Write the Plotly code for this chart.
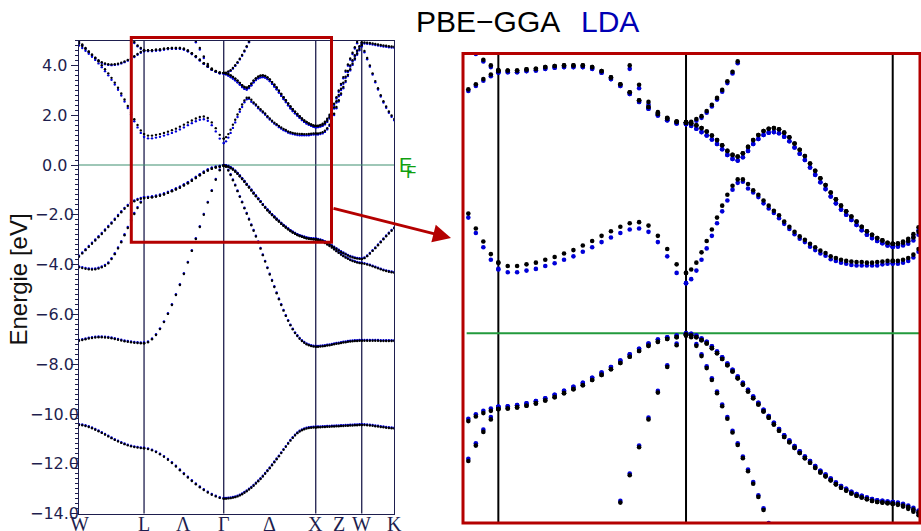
import numpy as np
import plotly.graph_objects as go

# ---------------------------------------------------------------------------
# k-path W - L - Γ - X - W - K (fcc), segment lengths in units of 2π/a
# ---------------------------------------------------------------------------
path_labels = ["W", "L", "Λ", "Γ", "Δ", "X", "Z", "W", "K"]
segment_lengths = [0.707, 0.866, 1.0, 0.5, 0.354]
zoom_segment_lengths = [0.726, 0.908, 1.0, 0.5, 0.354]
segment_points = [21, 21, 41, 21, 13]
energy_ticks = [-14, -12, -10, -8, -6, -4, -2, 0, 2, 4]

# ---------------------------------------------------------------------------
# Band energies in eV; each list runs W-L (21) | L-Γ (21) | Γ-X (41) | X-W (21) | W-K (13)
# None = band outside the plotted window
# ---------------------------------------------------------------------------
pbe_b1 = [
    -10.44, -10.45, -10.48, -10.52, -10.57, -10.63, -10.69, -10.76, -10.83, -10.90, -10.97,
    -11.04, -11.10, -11.16, -11.21, -11.26, -11.30, -11.33, -11.35, -11.37, -11.38,
    -11.38, -11.41, -11.46, -11.53, -11.62, -11.72, -11.84, -11.97, -12.11, -12.26, -12.41,
    -12.55, -12.69, -12.82, -12.94, -13.05, -13.15, -13.24, -13.31, -13.37, -13.40,
    -13.40, -13.40, -13.39, -13.38, -13.36, -13.34, -13.31, -13.27, -13.22, -13.16,
    -13.10, -13.03, -12.96, -12.88, -12.79, -12.70, -12.61, -12.51, -12.40, -12.29,
    -12.18, -12.06, -11.94, -11.82, -11.70, -11.57, -11.44, -11.32, -11.19, -11.07,
    -10.96, -10.86, -10.77, -10.70, -10.65, -10.61, -10.58, -10.56, -10.55, -10.54, -10.54,
    -10.54, -10.53, -10.53, -10.52, -10.52, -10.51, -10.51, -10.50, -10.50, -10.49, -10.49,
    -10.48, -10.48, -10.47, -10.47, -10.46, -10.46, -10.45, -10.45, -10.44, -10.44,
    -10.44, -10.44, -10.45, -10.46, -10.47, -10.49, -10.50, -10.52, -10.53, -10.55, -10.56,
    -10.57, -10.58,
]
pbe_b2 = [
    -7.06, -7.03, -7.00, -6.97, -6.95, -6.93, -6.92, -6.92, -6.93, -6.94, -6.96,
    -6.99, -7.02, -7.05, -7.08, -7.10, -7.12, -7.14, -7.15, -7.16, -7.16,
    -7.16, -7.12, -7.00, -6.83, -6.59, -6.31, -5.98, -5.62, -5.22, -4.82, -4.38,
    -3.92, -3.45, -2.97, -2.49, -2.00, -1.51, -1.04, -0.59, -0.21, -0.02,
    -0.02, -0.07, -0.22, -0.40, -0.61, -0.82, -1.05, -1.28, -1.50, -1.74,
    -1.96, -2.19, -2.42, -2.64, -2.87, -3.10, -3.36, -3.62, -3.88, -4.14,
    -4.40, -4.65, -4.90, -5.15, -5.39, -5.62, -5.85, -6.06, -6.26, -6.44,
    -6.60, -6.75, -6.87, -6.98, -7.07, -7.14, -7.20, -7.24, -7.27, -7.29, -7.30,
    -7.30, -7.30, -7.29, -7.28, -7.27, -7.25, -7.24, -7.22, -7.20, -7.18, -7.17,
    -7.15, -7.13, -7.12, -7.10, -7.09, -7.08, -7.07, -7.07, -7.06, -7.06,
    -7.06, -7.06, -7.06, -7.06, -7.06, -7.06, -7.06, -7.07, -7.07, -7.07, -7.07,
    -7.07, -7.07,
]
pbe_b3 = [
    -3.68, -3.55, -3.42, -3.29, -3.16, -3.03, -2.90, -2.77, -2.63, -2.49, -2.35,
    -2.20, -2.05, -1.90, -1.76, -1.64, -1.54, -1.46, -1.40, -1.36, -1.33,
    -1.33, -1.32, -1.30, -1.27, -1.23, -1.18, -1.12, -1.05, -0.98, -0.91, -0.82,
    -0.73, -0.63, -0.52, -0.41, -0.31, -0.22, -0.15, -0.10, -0.07, -0.04,
    -0.03, -0.04, -0.07, -0.12, -0.18, -0.26, -0.35, -0.45, -0.56, -0.67,
    -0.79, -0.90, -1.02, -1.14, -1.25, -1.37, -1.48, -1.60, -1.71, -1.82,
    -1.91, -2.01, -2.10, -2.19, -2.27, -2.36, -2.44, -2.51, -2.58, -2.65,
    -2.71, -2.76, -2.81, -2.85, -2.88, -2.91, -2.94, -2.96, -2.97, -2.98, -2.99,
    -2.99, -3.00, -3.02, -3.05, -3.09, -3.14, -3.19, -3.25, -3.31, -3.37, -3.43,
    -3.49, -3.54, -3.59, -3.64, -3.68, -3.71, -3.74, -3.76, -3.77, -3.78,
    -3.78, -3.74, -3.66, -3.56, -3.45, -3.34, -3.22, -3.10, -2.98, -2.86, -2.75,
    -2.64, -2.54,
]
pbe_b4 = [
    -4.11, -4.14, -4.17, -4.19, -4.20, -4.19, -4.16, -4.11, -4.05, -3.95, -3.78,
    -3.58, -3.35, -3.10, -2.82, -2.53, -2.24, -1.97, -1.73, -1.51, -1.33,
    -1.33, -1.32, -1.30, -1.27, -1.23, -1.18, -1.12, -1.05, -0.98, -0.91, -0.82,
    -0.73, -0.63, -0.52, -0.41, -0.31, -0.22, -0.15, -0.10, -0.07, -0.04,
    -0.03, -0.04, -0.07, -0.12, -0.18, -0.26, -0.35, -0.45, -0.56, -0.67,
    -0.79, -0.90, -1.02, -1.14, -1.25, -1.37, -1.48, -1.60, -1.71, -1.82,
    -1.91, -2.01, -2.10, -2.19, -2.27, -2.36, -2.44, -2.51, -2.58, -2.65,
    -2.71, -2.76, -2.81, -2.85, -2.88, -2.91, -2.94, -2.96, -2.97, -2.98, -2.99,
    -2.99, -3.01, -3.04, -3.08, -3.13, -3.19, -3.25, -3.32, -3.39, -3.46, -3.53,
    -3.60, -3.66, -3.72, -3.77, -3.82, -3.86, -3.89, -3.92, -3.94, -3.95,
    -3.95, -3.97, -4.00, -4.03, -4.07, -4.11, -4.15, -4.19, -4.23, -4.26, -4.29,
    -4.31, -4.33,
]
pbe_b5 = [
    4.88, 4.78, 4.67, 4.55, 4.43, 4.30, 4.16, 4.01, 3.85, 3.68, 3.50,
    3.31, 3.10, 2.87, 2.63, 2.37, 2.10, 1.84, 1.61, 1.39, 1.24,
    1.24, 1.18, 1.18, 1.21, 1.24, 1.29, 1.34, 1.40, 1.46, 1.54, 1.62,
    1.71, 1.79, 1.87, 1.93, 1.95, 1.89, 1.71, 1.48, 1.21, 1.06,
    1.06, 1.12, 1.24, 1.42, 1.62, 1.82, 2.03, 2.24, 2.43, 2.59,
    2.70, 2.70, 2.62, 2.51, 2.43, 2.33, 2.24, 2.15, 2.07, 1.96,
    1.87, 1.78, 1.70, 1.64, 1.57, 1.51, 1.45, 1.41, 1.35, 1.32,
    1.29, 1.27, 1.26, 1.25, 1.25, 1.24, 1.24, 1.25, 1.26, 1.27, 1.27,
    1.27, 1.27, 1.29, 1.32, 1.38, 1.48, 1.62, 1.82, 2.06, 2.33, 2.60,
    2.87, 3.13, 3.38, 3.62, 3.85, 4.07, 4.28, 4.48, 4.66, 4.82,
    4.82, 4.58, 4.30, 4.00, 3.68, 3.37, 3.08, 2.80, 2.56, 2.35, 2.15,
    1.99, 1.85,
]
pbe_b6 = [
    4.95, 4.84, 4.70, 4.56, 4.43, 4.31, 4.21, 4.13, 4.08, 4.05, 4.04,
    4.05, 4.07, 4.11, 4.16, 4.22, 4.28, 4.37, 4.46, 4.54, 4.60,
    4.61, 4.61, 4.61, 4.63, 4.64, 4.67, 4.69, 4.70, 4.70, 4.70, 4.67,
    4.60, 4.49, 4.37, 4.23, 4.09, 3.97, 3.85, 3.77, 3.71, 3.70,
    3.70, 3.68, 3.65, 3.60, 3.54, 3.47, 3.39, 3.30, 3.20, 3.13,
    3.10, 3.16, 3.27, 3.39, 3.48, 3.55, 3.59, 3.60, 3.58, 3.52,
    3.44, 3.33, 3.22, 3.11, 2.98, 2.85, 2.72, 2.60, 2.47, 2.35,
    2.24, 2.14, 2.05, 1.96, 1.87, 1.79, 1.73, 1.67, 1.63, 1.59, 1.57,
    1.57, 1.57, 1.59, 1.62, 1.68, 1.78, 1.92, 2.10, 2.32, 2.56, 2.81,
    3.06, 3.31, 3.55, 3.78, 4.00, 4.21, 4.41, 4.60, 4.77, 4.92,
    4.92, 4.92, 4.91, 4.90, 4.88, 4.86, 4.84, 4.82, 4.80, 4.79, 4.77,
    4.76, 4.75,
]
pbe_b7 = [
    None, None, None, None, None, None, None, None, None, None, None,
    None, None, None, None, None, None, 4.94, 4.80, 4.70, 4.62,
    4.61, 4.61, 4.61, 4.63, 4.64, 4.67, 4.69, 4.70, 4.70, 4.70, 4.67,
    4.60, 4.49, 4.37, 4.23, 4.09, 3.97, 3.85, 3.77, 3.71, 3.70,
    3.70, 3.68, 3.65, 3.60, 3.54, 3.47, 3.39, 3.30, 3.20, 3.13,
    3.10, 3.16, 3.27, 3.39, 3.48, 3.55, 3.59, 3.60, 3.58, 3.52,
    3.44, 3.33, 3.22, 3.11, 2.98, 2.85, 2.72, 2.60, 2.47, 2.35,
    2.24, 2.14, 2.05, 1.96, 1.87, 1.79, 1.73, 1.67, 1.63, 1.59, 1.57,
    1.57, 1.58, 1.61, 1.66, 1.74, 1.86, 2.02, 2.22, 2.46, 2.72, 2.99,
    3.26, 3.53, 3.79, 4.04, 4.28, 4.51, 4.73, 4.94, None, None,
    None, None, None, None, None, None, None, None, None, None, None,
    None, None,
]
pbe_b8 = [
    None, None, None, None, None, None, None, None, None, None, None,
    None, None, None, None, None, None, None, None, None, None,
    None, None, None, None, None, None, None, None, None, None, None,
    None, None, 4.98, 4.70, 4.36, 4.06, 3.88, 3.78, 3.72, 3.70,
    3.70, 3.71, 3.76, 3.81, 3.90, 4.01, 4.13, 4.27, 4.42, 4.59,
    4.77, 4.96, None, None, None, None, None, None, None, None,
    None, None, None, None, None, None, None, None, None, None,
    None, None, None, None, None, None, None, None, None, None, None,
    None, None, None, None, None, None, None, None, None, None, None,
    None, None, None, None, None, None, None, None, None, None,
    None, None, None, None, None, None, None, None, None, None, None,
    None, None,
]

lda_b1 = [
    -10.41, -10.42, -10.45, -10.49, -10.54, -10.60, -10.66, -10.73, -10.80, -10.87, -10.94,
    -11.01, -11.07, -11.13, -11.18, -11.23, -11.27, -11.30, -11.32, -11.34, -11.35,
    -11.35, -11.38, -11.43, -11.50, -11.59, -11.69, -11.81, -11.94, -12.08, -12.23, -12.38,
    -12.52, -12.66, -12.79, -12.91, -13.02, -13.12, -13.21, -13.28, -13.34, -13.37,
    -13.37, -13.37, -13.36, -13.35, -13.33, -13.31, -13.28, -13.24, -13.19, -13.13,
    -13.07, -13.00, -12.93, -12.85, -12.76, -12.67, -12.58, -12.48, -12.37, -12.26,
    -12.15, -12.03, -11.91, -11.79, -11.67, -11.54, -11.41, -11.29, -11.16, -11.04,
    -10.93, -10.83, -10.74, -10.67, -10.62, -10.58, -10.55, -10.53, -10.52, -10.51, -10.51,
    -10.51, -10.50, -10.50, -10.49, -10.49, -10.48, -10.48, -10.47, -10.47, -10.46, -10.46,
    -10.45, -10.45, -10.44, -10.44, -10.43, -10.43, -10.42, -10.42, -10.41, -10.41,
    -10.41, -10.41, -10.42, -10.43, -10.44, -10.46, -10.47, -10.49, -10.50, -10.52, -10.53,
    -10.54, -10.55,
]
lda_b2 = [
    -7.03, -7.00, -6.97, -6.94, -6.92, -6.90, -6.89, -6.89, -6.90, -6.91, -6.93,
    -6.96, -6.99, -7.02, -7.05, -7.07, -7.09, -7.11, -7.12, -7.13, -7.13,
    -7.13, -7.09, -6.97, -6.80, -6.56, -6.28, -5.95, -5.59, -5.19, -4.79, -4.35,
    -3.89, -3.42, -2.94, -2.46, -1.97, -1.48, -1.01, -0.56, -0.18, 0.00,
    0.00, -0.04, -0.19, -0.37, -0.58, -0.79, -1.02, -1.25, -1.47, -1.71,
    -1.93, -2.16, -2.39, -2.61, -2.84, -3.07, -3.33, -3.59, -3.85, -4.11,
    -4.37, -4.62, -4.87, -5.12, -5.36, -5.59, -5.82, -6.03, -6.23, -6.41,
    -6.57, -6.72, -6.84, -6.95, -7.04, -7.11, -7.17, -7.21, -7.24, -7.26, -7.27,
    -7.27, -7.27, -7.26, -7.25, -7.24, -7.22, -7.21, -7.19, -7.17, -7.15, -7.14,
    -7.12, -7.10, -7.09, -7.07, -7.06, -7.05, -7.04, -7.04, -7.03, -7.03,
    -7.03, -7.03, -7.03, -7.03, -7.03, -7.03, -7.03, -7.04, -7.04, -7.04, -7.04,
    -7.04, -7.04,
]
lda_b3 = [
    -3.64, -3.51, -3.38, -3.25, -3.12, -2.99, -2.86, -2.73, -2.59, -2.45, -2.31,
    -2.16, -2.01, -1.86, -1.72, -1.60, -1.50, -1.42, -1.36, -1.32, -1.29,
    -1.29, -1.28, -1.26, -1.23, -1.19, -1.14, -1.08, -1.01, -0.94, -0.87, -0.78,
    -0.69, -0.59, -0.48, -0.37, -0.27, -0.18, -0.11, -0.07, -0.04, -0.01,
    -0.01, -0.01, -0.04, -0.09, -0.15, -0.23, -0.32, -0.42, -0.53, -0.64,
    -0.76, -0.87, -0.99, -1.11, -1.22, -1.34, -1.45, -1.57, -1.68, -1.79,
    -1.88, -1.98, -2.07, -2.16, -2.24, -2.33, -2.41, -2.48, -2.55, -2.62,
    -2.68, -2.73, -2.78, -2.82, -2.85, -2.88, -2.91, -2.93, -2.94, -2.95, -2.96,
    -2.96, -2.97, -2.99, -3.02, -3.06, -3.11, -3.16, -3.22, -3.28, -3.34, -3.40,
    -3.46, -3.51, -3.56, -3.61, -3.65, -3.68, -3.71, -3.73, -3.74, -3.75,
    -3.75, -3.71, -3.63, -3.53, -3.42, -3.31, -3.19, -3.07, -2.95, -2.83, -2.72,
    -2.61, -2.51,
]
lda_b4 = [
    -4.07, -4.10, -4.13, -4.15, -4.16, -4.15, -4.12, -4.07, -4.01, -3.91, -3.74,
    -3.54, -3.31, -3.06, -2.78, -2.49, -2.20, -1.93, -1.69, -1.47, -1.29,
    -1.29, -1.28, -1.26, -1.23, -1.19, -1.14, -1.08, -1.01, -0.94, -0.87, -0.78,
    -0.69, -0.59, -0.48, -0.37, -0.27, -0.18, -0.11, -0.07, -0.04, -0.01,
    -0.01, -0.01, -0.04, -0.09, -0.15, -0.23, -0.32, -0.42, -0.53, -0.64,
    -0.76, -0.87, -0.99, -1.11, -1.22, -1.34, -1.45, -1.57, -1.68, -1.79,
    -1.88, -1.98, -2.07, -2.16, -2.24, -2.33, -2.41, -2.48, -2.55, -2.62,
    -2.68, -2.73, -2.78, -2.82, -2.85, -2.88, -2.91, -2.93, -2.94, -2.95, -2.96,
    -2.96, -2.98, -3.01, -3.05, -3.10, -3.16, -3.22, -3.29, -3.36, -3.43, -3.50,
    -3.57, -3.63, -3.69, -3.74, -3.79, -3.83, -3.86, -3.89, -3.91, -3.92,
    -3.92, -3.94, -3.97, -4.00, -4.04, -4.08, -4.12, -4.16, -4.20, -4.23, -4.26,
    -4.28, -4.30,
]
lda_b5 = [
    4.80, 4.70, 4.59, 4.47, 4.35, 4.22, 4.08, 3.93, 3.77, 3.60, 3.42,
    3.23, 3.02, 2.79, 2.55, 2.29, 2.03, 1.76, 1.51, 1.29, 1.12,
    1.13, 1.07, 1.07, 1.10, 1.13, 1.18, 1.23, 1.29, 1.35, 1.43, 1.51,
    1.60, 1.68, 1.76, 1.82, 1.84, 1.78, 1.60, 1.35, 1.06, 0.88,
    0.88, 0.95, 1.10, 1.29, 1.49, 1.71, 1.93, 2.14, 2.33, 2.52,
    2.64, 2.66, 2.54, 2.47, 2.39, 2.28, 2.19, 2.11, 2.02, 1.92,
    1.83, 1.74, 1.66, 1.60, 1.52, 1.46, 1.40, 1.36, 1.30, 1.27,
    1.24, 1.22, 1.20, 1.19, 1.19, 1.19, 1.19, 1.19, 1.21, 1.22, 1.23,
    1.22, 1.22, 1.24, 1.27, 1.33, 1.43, 1.57, 1.77, 2.01, 2.28, 2.55,
    2.82, 3.08, 3.33, 3.57, 3.80, 4.02, 4.23, 4.43, 4.61, 4.77,
    4.77, 4.53, 4.25, 3.95, 3.63, 3.32, 3.03, 2.75, 2.51, 2.30, 2.10,
    1.94, 1.80,
]
lda_b6 = [
    4.92, 4.81, 4.67, 4.53, 4.40, 4.28, 4.18, 4.10, 4.05, 4.02, 4.01,
    4.02, 4.04, 4.08, 4.13, 4.19, 4.25, 4.34, 4.43, 4.51, 4.57,
    4.58, 4.58, 4.58, 4.60, 4.61, 4.64, 4.66, 4.67, 4.67, 4.67, 4.64,
    4.57, 4.46, 4.34, 4.20, 4.06, 3.94, 3.82, 3.74, 3.68, 3.67,
    3.67, 3.64, 3.59, 3.53, 3.47, 3.40, 3.32, 3.23, 3.13, 3.06,
    3.03, 3.09, 3.20, 3.32, 3.41, 3.48, 3.52, 3.53, 3.51, 3.45,
    3.37, 3.26, 3.15, 3.04, 2.91, 2.78, 2.65, 2.53, 2.40, 2.28,
    2.17, 2.08, 1.99, 1.90, 1.81, 1.73, 1.67, 1.62, 1.58, 1.54, 1.52,
    1.52, 1.52, 1.54, 1.57, 1.63, 1.73, 1.87, 2.05, 2.27, 2.51, 2.76,
    3.01, 3.26, 3.50, 3.73, 3.95, 4.16, 4.36, 4.55, 4.72, 4.87,
    4.88, 4.88, 4.87, 4.86, 4.84, 4.82, 4.80, 4.78, 4.76, 4.75, 4.73,
    4.72, 4.71,
]
lda_b7 = [
    None, None, None, None, None, None, None, None, None, None, None,
    None, None, None, None, None, None, 4.90, 4.77, 4.67, 4.59,
    4.58, 4.58, 4.58, 4.60, 4.61, 4.64, 4.66, 4.67, 4.67, 4.67, 4.64,
    4.57, 4.46, 4.34, 4.20, 4.06, 3.94, 3.82, 3.74, 3.68, 3.67,
    3.67, 3.64, 3.59, 3.53, 3.47, 3.40, 3.32, 3.23, 3.13, 3.06,
    3.03, 3.09, 3.20, 3.32, 3.41, 3.48, 3.52, 3.53, 3.51, 3.45,
    3.37, 3.26, 3.15, 3.04, 2.91, 2.78, 2.65, 2.53, 2.40, 2.28,
    2.17, 2.08, 1.99, 1.90, 1.81, 1.73, 1.67, 1.62, 1.58, 1.54, 1.52,
    1.52, 1.53, 1.56, 1.61, 1.69, 1.81, 1.97, 2.17, 2.41, 2.67, 2.94,
    3.21, 3.48, 3.74, 3.99, 4.23, 4.46, 4.68, 4.89, None, None,
    None, None, None, None, None, None, None, None, None, None, None,
    None, None,
]
lda_b8 = [
    None, None, None, None, None, None, None, None, None, None, None,
    None, None, None, None, None, None, None, None, None, None,
    None, None, None, None, None, None, None, None, None, None, None,
    None, None, 4.93, 4.64, 4.30, 4.01, 3.84, 3.74, 3.69, 3.67,
    3.67, 3.68, 3.73, 3.78, 3.87, 3.98, 4.10, 4.24, 4.39, 4.56,
    4.74, 4.93, None, None, None, None, None, None, None, None,
    None, None, None, None, None, None, None, None, None, None,
    None, None, None, None, None, None, None, None, None, None, None,
    None, None, None, None, None, None, None, None, None, None, None,
    None, None, None, None, None, None, None, None, None, None,
    None, None, None, None, None, None, None, None, None, None, None,
    None, None,
]

pbe_bands = [pbe_b1, pbe_b2, pbe_b3, pbe_b4, pbe_b5, pbe_b6, pbe_b7, pbe_b8]
lda_bands = [lda_b1, lda_b2, lda_b3, lda_b4, lda_b5, lda_b6, lda_b7, lda_b8]
n_k = sum(segment_points)
for band in pbe_bands + lda_bands:
    assert len(band) == n_k, len(band)

# ---------------------------------------------------------------------------
# Styling
# ---------------------------------------------------------------------------
W_PX, H_PX = 921, 531
NAVY = "#1e1e4e"
RED = "#b40000"
BLACK = "#000000"
BLUE = "#0000d8"
GREEN = "#10a010"


def path_coordinates(lengths):
    nodes = np.concatenate([[0.0], np.cumsum(lengths)])
    k = np.concatenate([np.linspace(nodes[i], nodes[i + 1], n)
                        for i, n in enumerate(segment_points)])
    return k, nodes


def stacked(bands, k):
    xs = np.concatenate([k for _ in bands])
    ys = np.concatenate([np.array(b, dtype=float) for b in bands])
    return xs, ys


k_full, nodes_full = path_coordinates(segment_lengths)
k_zoom, nodes_zoom = path_coordinates(zoom_segment_lengths)

label_pos = [nodes_full[0], nodes_full[1], 0.5 * (nodes_full[1] + nodes_full[2]),
             nodes_full[2], 0.5 * (nodes_full[2] + nodes_full[3]), nodes_full[3],
             0.5 * (nodes_full[3] + nodes_full[4]), nodes_full[4], nodes_full[5]]


def px_x(p):
    return p / W_PX


def px_y(p):
    return 1 - p / H_PX


fig = go.Figure()

# overview panel: LDA underneath, PBE on top
for bands, color in ((lda_bands, BLUE), (pbe_bands, BLACK)):
    x, y = stacked(bands, k_full)
    fig.add_trace(go.Scatter(x=x, y=y, mode="markers", xaxis="x", yaxis="y",
                             marker=dict(size=2.4, color=color, line=dict(width=0)),
                             hoverinfo="skip", showlegend=False))

# magnified panel
for bands, color in ((lda_bands, BLUE), (pbe_bands, BLACK)):
    x, y = stacked(bands, k_zoom)
    fig.add_trace(go.Scatter(x=x, y=y, mode="markers", xaxis="x2", yaxis="y2",
                             marker=dict(size=4.6, color=color, line=dict(width=0)),
                             hoverinfo="skip", showlegend=False))

shapes = []
# high-symmetry lines, overview
for xv in nodes_full[1:5]:
    shapes.append(dict(type="line", xref="x", yref="y domain", x0=xv, x1=xv, y0=0, y1=1,
                       line=dict(color=NAVY, width=1.3), layer="below"))
# Fermi level, overview
shapes.append(dict(type="line", xref="x domain", yref="y", x0=0, x1=1, y0=0, y1=0,
                   line=dict(color="#3f8f70", width=1.2), layer="below"))
# high-symmetry lines, zoom (L, Γ, X)
for xv in nodes_zoom[1:4]:
    shapes.append(dict(type="line", xref="x2", yref="y2 domain", x0=xv, x1=xv, y0=0, y1=1,
                       line=dict(color=BLACK, width=2), layer="below"))
# Fermi level, zoom
shapes.append(dict(type="line", xref="x2 domain", yref="y2", x0=0.008, x1=1, y0=0, y1=0,
                   line=dict(color="#229a3c", width=2), layer="below"))
# magnification box on the overview
shapes.append(dict(type="rect", xref="paper", yref="paper",
                   x0=px_x(131.3), x1=px_x(331.5), y0=px_y(242.2), y1=px_y(37.5),
                   line=dict(color=RED, width=3)))
# frame of the zoom panel
shapes.append(dict(type="rect", xref="paper", yref="paper",
                   x0=px_x(463), x1=px_x(920), y0=px_y(523), y1=px_y(53.5),
                   line=dict(color=RED, width=3)))

annotations = [
    dict(text="PBE−GGA", xref="paper", yref="paper", x=px_x(562), y=px_y(21.5),
         xanchor="right", yanchor="middle", showarrow=False,
         font=dict(family="Liberation Sans", size=30, color="#000000")),
    dict(text="LDA", xref="paper", yref="paper", x=px_x(579), y=px_y(21.5),
         xanchor="left", yanchor="middle", showarrow=False,
         font=dict(family="Liberation Sans", size=30, color="#0000b4")),
    dict(text="Energie [eV]", xref="paper", yref="paper", x=px_x(18), y=px_y(279.5),
         xanchor="center", yanchor="middle", textangle=-90, showarrow=False,
         font=dict(family="Liberation Sans", size=24, color="#111111")),
    dict(text="E", xref="paper", yref="paper", x=px_x(397), y=px_y(165),
         xanchor="left", yanchor="middle", showarrow=False,
         font=dict(family="Liberation Sans", size=20, color=GREEN)),
    dict(text="F", xref="paper", yref="paper", x=px_x(404), y=px_y(172),
         xanchor="left", yanchor="middle", showarrow=False,
         font=dict(family="Liberation Sans", size=17, color=GREEN)),
    # arrow from the box to the zoom panel
    dict(text="", xref="paper", yref="paper", x=px_x(451), y=px_y(238),
         ax=332 - 451, ay=208 - 238, axref="pixel", ayref="pixel",
         showarrow=True, arrowhead=2, arrowsize=1.2, arrowwidth=3, arrowcolor=RED),
]

# energy labels, centred under each other as in the original axis
for ev in energy_ticks:
    annotations.append(dict(text=f"{ev:.1f}".replace("-", "−"), xref="paper", yref="y",
                            x=px_x(54), y=ev, xanchor="center", yanchor="middle",
                            showarrow=False,
                            font=dict(family="DejaVu Sans", size=16, color=NAVY)))

# k-point labels under the overview
for pos, lab in zip(label_pos, path_labels):
    annotations.append(dict(text=lab, xref="x", yref="paper", x=pos, y=px_y(511),
                            xanchor="center", yanchor="top", showarrow=False,
                            font=dict(family="Liberation Serif", size=20, color=NAVY)))

fig.update_layout(
    width=W_PX, height=H_PX,
    margin=dict(l=0, r=0, t=0, b=0, autoexpand=False),
    paper_bgcolor="white", plot_bgcolor="white",
    showlegend=False,
    xaxis=dict(domain=[px_x(79), px_x(394.3)], range=[0, nodes_full[-1]],
               automargin=False, showticklabels=False,
               ticks="", showgrid=False, zeroline=False,
               showline=True, mirror=True, linecolor=NAVY, linewidth=1.3),
    yaxis=dict(domain=[px_y(513.6), px_y(40.5)], range=[-14, 5],
               automargin=False, showticklabels=False,
               tickmode="array", tickvals=energy_ticks,
               ticks="outside", ticklen=7, tickwidth=1, tickcolor=NAVY,
               minor=dict(tickmode="linear", tick0=0, dtick=0.2, ticks="outside",
                          ticklen=3, tickwidth=1, tickcolor=NAVY),
               showgrid=False, zeroline=False,
               showline=True, mirror=True, linecolor=NAVY, linewidth=1.3),
    xaxis2=dict(domain=[px_x(463), px_x(920)], range=[0.555, 2.766],
                automargin=False, visible=False, showgrid=False, zeroline=False),
    yaxis2=dict(domain=[px_y(523), px_y(53.5)], range=[-3.328, 4.909],
                automargin=False, visible=False, showgrid=False, zeroline=False),
    shapes=shapes,
    annotations=annotations,
)

fig.write_html("out.html")
